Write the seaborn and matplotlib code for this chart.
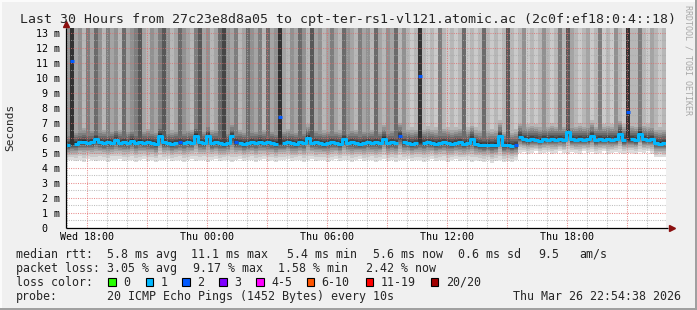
import numpy as np
import pandas as pd
import matplotlib
matplotlib.use("Agg")
import matplotlib.pyplot as plt
import seaborn as sns
from matplotlib.patches import Rectangle

# ------------------------------------------------------------------ data
title = "Last 30 Hours from 27c23e8d8a05 to cpt-ter-rs1-vl121.atomic.ac (2c0f:ef18:0:4::18)"
x_tick_hours = [0, 6, 12, 18, 24]
x_tick_labels = ["Wed 18:00", "Thu 00:00", "Thu 06:00", "Thu 12:00", "Thu 18:00"]
y_tick_values = list(range(14))
y_tick_labels = ["0  "] + [f"{v} m" for v in range(1, 14)]

# median rtt per 12-minute bin (ms)
median_ms = [
    5.50, 11.10, 5.60, 5.70, 5.75, 5.65, 5.70, 5.90, 5.70, 5.65,
    5.70, 5.65, 5.85, 5.65, 5.70, 5.65, 5.80, 5.65, 5.75, 5.65,
    5.70, 5.65, 5.60, 6.15, 5.70, 5.65, 5.60, 5.65, 5.70, 5.65,
    5.70, 5.65, 6.15, 5.70, 5.65, 6.10, 5.65, 5.70, 5.65, 5.60,
    5.65, 6.10, 5.70, 5.65, 5.60, 5.65, 5.70, 5.65, 5.75, 5.65,
    5.70, 5.65, 5.60, 7.40, 5.65, 5.70, 5.65, 5.60, 5.70, 5.65,
    6.00, 5.65, 5.70, 5.65, 5.60, 5.65, 5.70, 5.65, 5.60, 5.90,
    5.65, 5.70, 5.65, 5.60, 5.65, 5.70, 5.65, 5.70, 5.65, 5.95,
    5.65, 5.70, 5.65, 6.10, 5.70, 5.65, 5.60, 5.65, 10.10, 5.65,
    5.70, 5.65, 5.60, 5.65, 5.70, 5.65, 5.60, 5.65, 5.70, 5.60,
    5.65, 5.93, 5.60, 5.55, 5.50, 5.55, 5.50, 5.55, 6.10, 5.50,
    5.55, 5.45, 5.50, 6.05, 5.90, 5.85, 5.90, 5.85, 5.80, 5.90,
    5.85, 5.90, 5.85, 5.90, 5.85, 6.40, 5.90, 5.85, 5.90, 5.85,
    5.90, 6.10, 5.85, 5.90, 5.85, 5.90, 5.85, 5.90, 6.25, 5.85,
    7.75, 5.90, 5.85, 6.27, 5.90, 5.85, 5.90, 5.65, 5.60, 5.65,
]

# typical (bulk) rtt for bins whose median jumped far above the bulk
spike_core_ms = {1: 5.60, 53: 5.65, 88: 5.70, 140: 5.90}

# lost pings per bin (selects the median colour)
loss_count = [
    1, 2, 1, 1, 1, 1, 1, 1, 1, 1,
    1, 1, 1, 1, 1, 1, 1, 1, 1, 1,
    1, 1, 1, 1, 1, 1, 1, 1, 2, 1,
    1, 1, 1, 1, 1, 1, 1, 1, 1, 1,
    1, 1, 2, 1, 1, 1, 1, 1, 1, 1,
    1, 1, 1, 2, 1, 1, 1, 1, 1, 1,
    1, 1, 1, 1, 1, 1, 1, 1, 1, 1,
    1, 1, 1, 1, 1, 1, 1, 1, 1, 1,
    1, 1, 1, 2, 1, 1, 1, 1, 2, 1,
    1, 1, 1, 1, 1, 1, 1, 1, 1, 1,
    1, 1, 1, 1, 1, 1, 1, 1, 1, 1,
    1, 1, 2, 1, 1, 1, 1, 1, 1, 1,
    1, 1, 1, 1, 1, 1, 1, 1, 1, 1,
    1, 1, 1, 1, 1, 1, 1, 1, 1, 1,
    2, 1, 1, 1, 1, 1, 1, 1, 1, 1,
]

# number of smoke layers (of 10) whose upper ping is above the chart top
smoke_top_layers = [
    5, 10, 4, 5, 3, 6, 4, 7, 5, 3,
    6, 4, 5, 3, 7, 4, 5, 6, 8, 4,
    3, 5, 4, 6, 8, 5, 3, 4, 7, 5,
    4, 3, 6, 8, 4, 5, 3, 4, 7, 9,
    5, 4, 6, 3, 4, 7, 5, 4, 6, 3,
    7, 4, 5, 10, 4, 3, 5, 4, 7, 5,
    3, 8, 4, 5, 3, 4, 6, 4, 3, 7,
    5, 4, 3, 6, 4, 5, 3, 7, 4, 3,
    5, 4, 7, 3, 5, 3, 2, 3, 10, 3,
    2, 3, 2, 6, 3, 2, 3, 2, 3, 7,
    2, 3, 2, 3, 7, 3, 2, 3, 2, 3,
    8, 3, 2, 3, 5, 2, 3, 2, 3, 5,
    3, 2, 3, 6, 3, 8, 4, 3, 2, 3,
    4, 2, 3, 6, 2, 3, 2, 5, 3, 2,
    10, 3, 3, 6, 3, 2, 4, 3, 2, 3,
]

# fastest ping per bin (lower smoke edge, ms)
min_ping_ms = [
    4.50, 4.50, 4.45, 4.55, 4.40, 4.60, 4.50, 4.45, 4.55, 4.50,
    4.40, 4.55, 4.50, 4.60, 4.45, 4.50, 4.55, 4.40, 4.50, 4.60,
    4.45, 4.50, 4.40, 4.55, 4.50, 4.60, 4.45, 4.50, 4.55, 4.40,
    4.50, 4.60, 4.45, 4.50, 4.55, 4.40, 4.50, 4.60, 4.45, 4.50,
    4.55, 4.40, 4.50, 4.60, 4.45, 4.50, 4.55, 4.40, 4.50, 4.60,
    4.45, 4.50, 4.40, 4.50, 4.50, 4.60, 4.45, 4.50, 4.55, 4.40,
    4.50, 4.60, 4.45, 4.50, 4.55, 4.40, 4.50, 4.60, 4.45, 4.50,
    4.55, 4.40, 4.50, 4.60, 4.45, 4.50, 4.55, 4.40, 4.50, 4.60,
    4.45, 4.50, 4.40, 4.55, 4.50, 4.60, 4.45, 4.50, 4.50, 4.40,
    4.50, 4.60, 4.45, 4.50, 4.55, 4.40, 4.50, 4.60, 4.45, 4.50,
    4.55, 4.40, 4.50, 4.45, 4.40, 4.50, 4.35, 4.45, 4.50, 4.40,
    4.45, 4.40, 4.50, 5.00, 5.05, 4.95, 5.00, 5.10, 4.95, 5.00,
    5.05, 4.95, 5.00, 5.10, 5.00, 4.95, 5.05, 5.00, 4.95, 5.10,
    5.00, 5.05, 4.95, 5.00, 5.10, 4.95, 5.00, 5.05, 5.00, 4.95,
    5.00, 5.00, 4.95, 5.05, 5.00, 5.10, 4.95, 4.70, 4.75, 4.70,
]

# per-layer shape of the ping distribution (outer -> inner layer)
layer_hi_offset_ms = [1.6, 1.3, 1.1, 0.9, 0.75, 0.6, 0.45, 0.32, 0.2, 0.1]
layer_lo_fraction = [1.0, 0.8, 0.65, 0.52, 0.42, 0.33, 0.25, 0.17, 0.1, 0.04]

loss_colors = {0: "#26ff00", 1: "#00b8ff", 2: "#0059ff", 3: "#7e00ff",
               5: "#ff00ff", 10: "#ff5500", 19: "#ff0000", 20: "#a10000"}
loss_legend = [("0", "#26ff00"), ("1", "#00b8ff"), ("2", "#0059ff"), ("3", "#7e00ff"),
               ("4-5", "#ff00ff"), ("6-10", "#ff5500"), ("11-19", "#ff0000"), ("20/20", "#a10000")]

rtt_stats = ["5.8 ms avg", "11.1 ms max", "5.4 ms min", "5.6 ms now", "0.6 ms sd", "9.5", "am/s"]
loss_stats = ["3.05 % avg", "9.17 % max", "1.58 % min", "2.42 % now"]
probe_text = "20 ICMP Echo Pings (1452 Bytes) every 10s"
stamp_text = "Thu Mar 26 22:54:38 2026"

# ------------------------------------------------------------------ layout
W, H = 697, 310
start_h, bin_h = -1.05, 0.2
y_top = 13.333

sns.set_style("white")
plt.rcParams["font.family"] = ["DejaVu Sans Mono", "DejaVu Sans"]

fig = plt.figure(figsize=(W / 100, H / 100), dpi=100)
fig.patch.set_facecolor("#f0f0f0")

def fx(x):
    return x / W

def fy(y):
    return 1 - y / H

ax = fig.add_axes([fx(66), fy(228), 600 / W, 200 / H])
ax.set_facecolor("white")
for s in ax.spines.values():
    s.set_visible(False)

n = len(median_ms)
edges = start_h + bin_h * np.arange(n + 1)
med = np.array(median_ms)
core = np.array([spike_core_ms.get(i, m) for i, m in enumerate(median_ms)])
mins = np.array(min_ping_ms)
ntop = np.array(smoke_top_layers)

# smoke layers (outer/light first, inner/dark last)
for k in range(10):
    g = (190 / 10 * (10 - (k + 1)) + 50) / 255
    hi = np.where(ntop > k, 14.0, core + layer_hi_offset_ms[k])
    lo = core - layer_lo_fraction[k] * (core - mins)
    ax.stairs(hi, edges, baseline=lo, fill=True, color=(g, g, g), lw=0, zorder=1)

# grid (drawn over the smoke)
x0, x1 = start_h, start_h + 30
for h in np.arange(-1, 29):
    major = (h % 3 == 0)
    ax.axvline(h, color="#e06a6a" if major else "#a8a8a8", lw=0.75,
               ls=(0, (1, 1.2)), alpha=0.75, zorder=2)
for v in np.arange(0.5, 13.5, 0.5):
    major = float(v).is_integer()
    ax.axhline(v, color="#e06a6a" if major else "#a8a8a8", lw=0.75,
               ls=(0, (1, 1.2)), alpha=0.75, zorder=2)

# median line, coloured by loss
rows = []
run = 0
for i in range(n):
    if i > 0 and loss_count[i] != loss_count[i - 1]:
        run += 1
    c = loss_count[i]
    rows.append((run, c, edges[i], med[i]))
    rows.append((run, c, edges[i + 1], med[i]))
df = pd.DataFrame(rows, columns=["run", "loss", "t", "ms"])
sns.lineplot(data=df, x="t", y="ms", units="run", estimator=None, hue="loss",
             palette={1: loss_colors[1], 2: loss_colors[2]}, sort=False,
             legend=False, linewidth=2.2, ax=ax, zorder=4,
             solid_capstyle="butt")

ax.set_xlim(x0, x1)
ax.set_ylim(0, y_top)
ax.set_xlabel("")
ax.set_ylabel("")

ax.set_xticks(x_tick_hours)
ax.set_xticklabels(x_tick_labels)
ax.set_xticks(np.arange(-1, 29), minor=True)
ax.set_yticks(y_tick_values)
ax.set_yticklabels(y_tick_labels)
ax.set_yticks(np.arange(0.5, 13.5, 0.5), minor=True)
ax.tick_params(axis="both", which="major", length=2.2, width=0.7, color="#404040",
               labelsize=7.2, labelcolor="black", direction="out")
ax.tick_params(axis="x", which="major", pad=1.0)
ax.tick_params(axis="y", which="major", pad=2.0)
ax.tick_params(axis="both", which="minor", length=1.2, width=0.6, color="#808080")

# axis lines with arrows
ax.plot([0, 602 / 600], [0, 0], transform=ax.transAxes, color="black", lw=0.9,
        clip_on=False, zorder=5, solid_capstyle="butt")
ax.plot([0, 0], [0, 1.0], transform=ax.transAxes, color="black", lw=0.9,
        clip_on=False, zorder=5, solid_capstyle="butt")
ax.plot([606 / 600], [0], transform=ax.transAxes, marker=">", ms=4.5,
        color="#8b1010", clip_on=False, zorder=6)
ax.plot([0], [1 + 4.5 / 200], transform=ax.transAxes, marker="^", ms=4.5,
        color="#8b1010", clip_on=False, zorder=6)

# texts
fig.text(fx(348), fy(19), title, ha="center", va="center", fontsize=9.55)
fig.text(fx(10), fy(127), "Seconds", ha="center", va="center", rotation=90, fontsize=8.0)
fig.text(fx(688), fy(5), "RRDTOOL / TOBI OETIKER", ha="center", va="top",
         rotation=-90, fontsize=6.0, color="#a8a8a8")

fs = 8.37
fig.text(fx(16), fy(254.3), "median rtt:", ha="left", va="center", fontsize=fs)
for txt, xp in zip(rtt_stats, [107.3, 190.7, 286.7, 372.7, 458.3, 538.3, 579.3]):
    fig.text(fx(xp), fy(254.3), txt, ha="left", va="center", fontsize=fs)
fig.text(fx(16), fy(268.3), "packet loss:", ha="left", va="center", fontsize=fs)
for txt, xp in zip(loss_stats, [107.3, 193.0, 278.3, 365.7]):
    fig.text(fx(xp), fy(268.3), txt, ha="left", va="center", fontsize=fs)
fig.text(fx(16), fy(282.3), "loss color:", ha="left", va="center", fontsize=fs)
box_x = [108.3, 145.7, 182.3, 219.0, 256.0, 306.7, 365.7, 430.7]
for (lab, col), bx in zip(loss_legend, box_x):
    fig.add_artist(Rectangle((fx(bx), fy(286)), 7.5 / W, 8 / H, transform=fig.transFigure,
                             facecolor=col, edgecolor="black", lw=0.8))
    fig.text(fx(bx + 15), fy(282.3), lab, ha="left", va="center", fontsize=fs)
fig.text(fx(16), fy(296.3), "probe:", ha="left", va="center", fontsize=fs)
fig.text(fx(107.3), fy(296.3), probe_text, ha="left", va="center", fontsize=fs)
fig.text(fx(513.3), fy(296.3), stamp_text, ha="left", va="center", fontsize=fs)

# image frame
fig.add_artist(Rectangle((0, 0), fx(2), 1, transform=fig.transFigure, facecolor="#fbfbfb", lw=0))
fig.add_artist(Rectangle((0, fy(2)), 1, 2 / H, transform=fig.transFigure, facecolor="#fbfbfb", lw=0))
fig.add_artist(Rectangle((fx(695), 0), 2 / W, 1, transform=fig.transFigure, facecolor="#a0a0a0", lw=0))
fig.add_artist(Rectangle((0, 0), 1, 2.5 / H, transform=fig.transFigure, facecolor="#a0a0a0", lw=0))

fig.savefig("out.png", dpi=100, facecolor=fig.get_facecolor())
